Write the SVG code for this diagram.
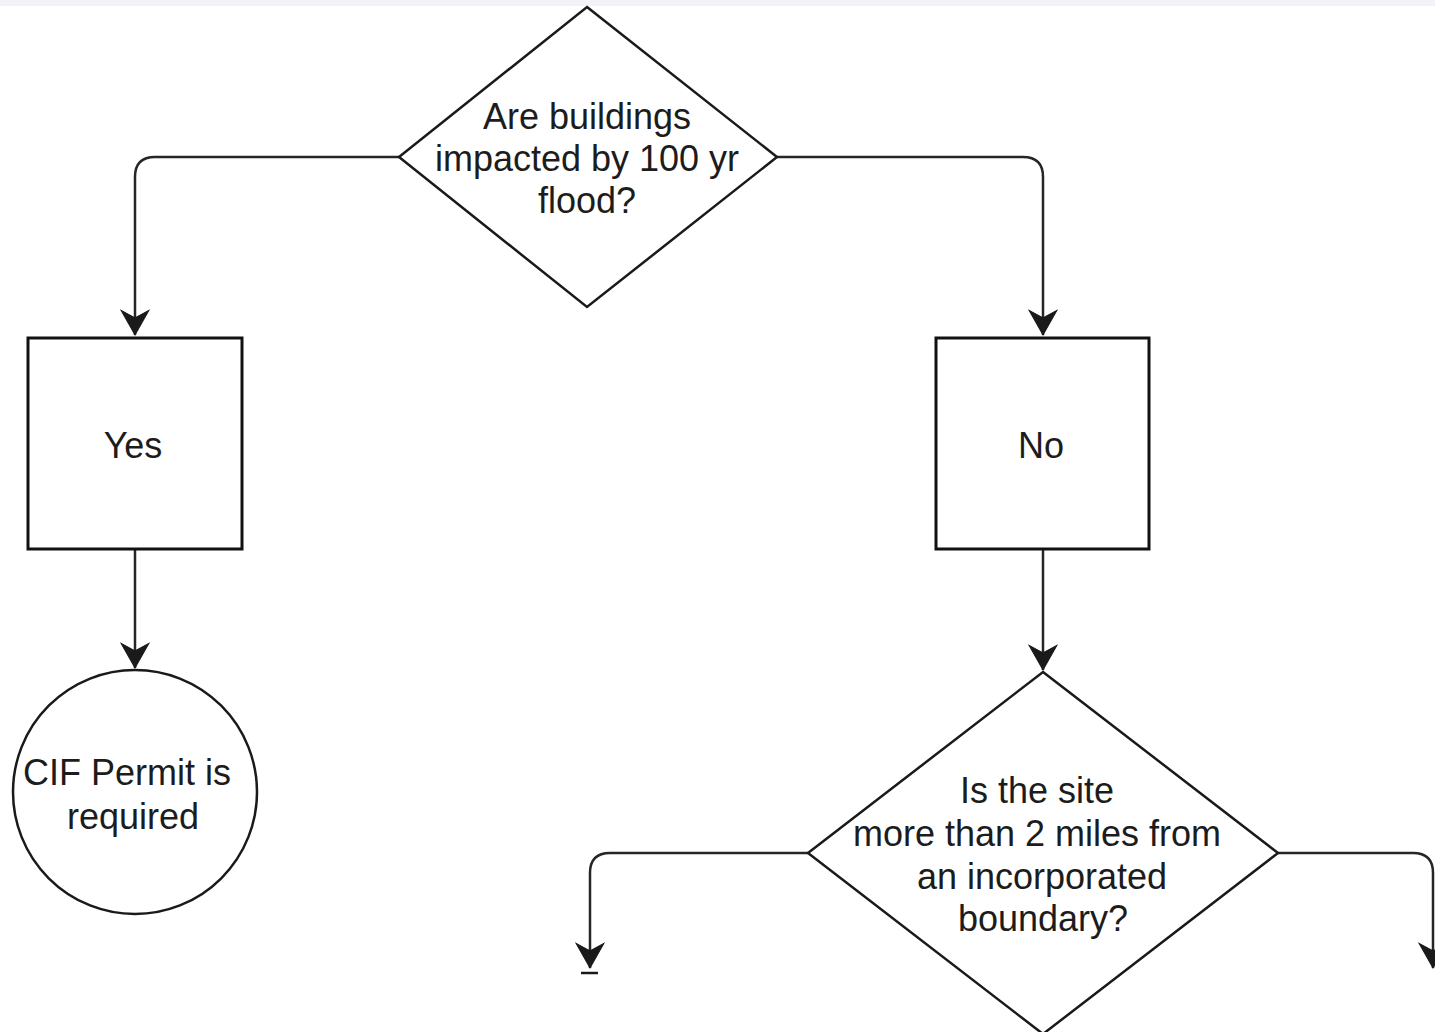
<svg xmlns="http://www.w3.org/2000/svg" width="1435" height="1032" viewBox="0 0 1435 1032">
  <style>
    .shape { fill: #ffffff; stroke: #1a1a1a; stroke-width: 2.5; }
    .box { fill: #ffffff; stroke: #111111; stroke-width: 3; }
    .edge { fill: none; stroke: #262626; stroke-width: 2.5; }
    .label { font-family: "Liberation Sans", Arial, sans-serif; font-size: 36px; fill: #1c1c1c; text-anchor: middle; }
  </style>
  <defs>
    <marker id="arrow" markerUnits="userSpaceOnUse" markerWidth="30" markerHeight="30" viewBox="-24 -14 26 28" refX="0" refY="0" orient="auto">
      <path d="M -23 -13 L 0 0 L -23 13 L -16 0 Z" fill="#1a1a1a" stroke="#1a1a1a" stroke-width="1"/>
    </marker>
  </defs>

  <rect width="1435" height="1032" fill="#ffffff"/>
  <rect x="0" y="0" width="1435" height="6" fill="#f3f3f7"/>

  <!-- connectors -->
  <g id="connectors">
    <path class="edge" d="M 399 157 L 155 157 Q 135 157 135 177 L 135 335" marker-end="url(#arrow)"/>
    <path class="edge" d="M 777 157 L 1023 157 Q 1043 157 1043 177 L 1043 335" marker-end="url(#arrow)"/>
    <path class="edge" d="M 135 550 L 135 668" marker-end="url(#arrow)"/>
    <path class="edge" d="M 1043 550 L 1043 670" marker-end="url(#arrow)"/>
    <path class="edge" d="M 808 853 L 610 853 Q 590 853 590 873 L 590 968" marker-end="url(#arrow)"/>
    <line x1="581" y1="973" x2="598" y2="973" stroke="#1a1a1a" stroke-width="2.5"/>
    <path class="edge" d="M 1278 853 L 1413 853 Q 1433 853 1433 873 L 1433 968" marker-end="url(#arrow)"/>
  </g>

  <!-- decision: flood impact -->
  <g id="q-flood">
    <polygon class="shape" points="587,7 777,157 587,307 399,157"/>
    <text class="label" x="587" y="129">Are buildings</text>
    <text class="label" x="587" y="171">impacted by 100 yr</text>
    <text class="label" x="587" y="213">flood?</text>
  </g>

  <!-- outcome: yes -->
  <g id="yes">
    <rect class="box" x="28" y="338" width="214" height="211"/>
    <text class="label" x="133" y="458">Yes</text>
  </g>

  <!-- outcome: no -->
  <g id="no">
    <rect class="box" x="936" y="338" width="213" height="211"/>
    <text class="label" x="1041" y="458">No</text>
  </g>

  <!-- terminal: permit required -->
  <g id="permit">
    <circle class="shape" cx="135" cy="792" r="122"/>
    <text class="label" x="127" y="785">CIF Permit is</text>
    <text class="label" x="133" y="829">required</text>
  </g>

  <!-- decision: distance from boundary -->
  <g id="q-boundary">
    <polygon class="shape" points="1043,672 1278,853 1043,1034 808,853"/>
    <text class="label" x="1037" y="803">Is the site</text>
    <text class="label" x="1037" y="846">more than 2 miles from</text>
    <text class="label" x="1042" y="889">an incorporated</text>
    <text class="label" x="1043" y="931">boundary?</text>
  </g>
</svg>
